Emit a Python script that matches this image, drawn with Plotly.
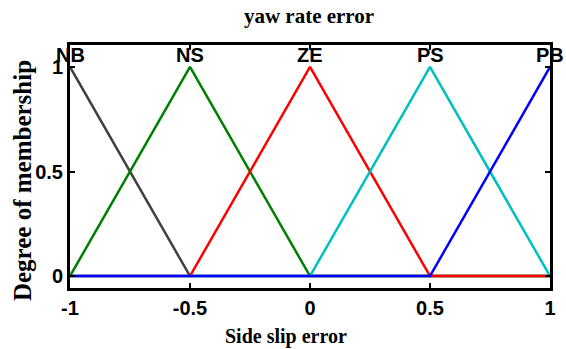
import plotly.graph_objects as go

# breakpoints of the triangular membership functions
x_pts = [-1, -0.5, 0, 0.5, 1]
nb = [1, 0, 0, 0, 0]
ns = [0, 1, 0, 0, 0]
ze = [0, 0, 1, 0, 0]
ps = [0, 0, 0, 1, 0]
pb = [0, 0, 0, 0, 1]

names = ["NB", "NS", "ZE", "PS", "PB"]
series = [nb, ns, ze, ps, pb]
colors = ["#404040", "#008000", "#ff0000", "#00bfbf", "#0000ff"]

x_ticks = [-1, -0.5, 0, 0.5, 1]
x_ticklabels = ["-1", "-0.5", "0", "0.5", "1"]
y_ticks = [0, 0.5, 1]
y_ticklabels = ["0", "0.5", "1"]

fig = go.Figure()
for name, ys, c in zip(names, series, colors):
    fig.add_trace(go.Scatter(x=x_pts, y=ys, mode="lines", name=name,
                             line=dict(color=c, width=2.5)))

# label each function above its peak
for name, ys in zip(names, series):
    peak = x_pts[ys.index(max(ys))]
    fig.add_annotation(x=peak, y=1.055, text=name, showarrow=False,
                       xanchor="center", yanchor="middle",
                       font=dict(family="Arial", size=20, color="black", weight="bold"))

tickfont = dict(family="Arial", size=20, color="black", weight="bold")
serif = dict(family="Times New Roman", size=20, color="black", weight="bold")

# axis labels as annotations so they can sit where the original has them
fig.add_annotation(xref="paper", yref="paper", x=0.45, y=-0.2, text="Side slip error",
                   showarrow=False, xanchor="center", yanchor="middle", font=serif)
fig.add_annotation(xref="paper", yref="paper", x=-0.1, y=0.44, text="Degree of membership",
                   textangle=-90, showarrow=False, xanchor="center", yanchor="middle",
                   font=dict(family="Times New Roman", size=25, color="black", weight="bold"))

fig.update_layout(
    width=566, height=349,
    margin=dict(l=70, r=16, t=45, b=61),
    paper_bgcolor="white", plot_bgcolor="white",
    showlegend=False,
    title=dict(text="yaw rate error", x=0.546, xanchor="center", y=0.955, yanchor="middle",
               font=dict(family="Times New Roman", size=21, color="black", weight="bold"),
               automargin=False),
    xaxis=dict(range=[-1, 1], tickvals=x_ticks, ticktext=x_ticklabels,
               showgrid=False, zeroline=False, showline=True, linecolor="black",
               linewidth=3, mirror="ticks", ticks="inside", ticklen=5, tickwidth=2,
               tickcolor="black", tickfont=tickfont, automargin=False),
    yaxis=dict(range=[-0.057, 1.105], tickvals=y_ticks, ticktext=y_ticklabels,
               showgrid=False, zeroline=False, showline=True, linecolor="black",
               linewidth=3, mirror="ticks", ticks="inside", ticklen=5, tickwidth=2,
               tickcolor="black", tickfont=tickfont, automargin=False),
)

# drop the default page margin so the figure sits at the window corner
fig.write_html("out.html", config={"displayModeBar": False},
               post_script="document.body.style.margin='0px';")
